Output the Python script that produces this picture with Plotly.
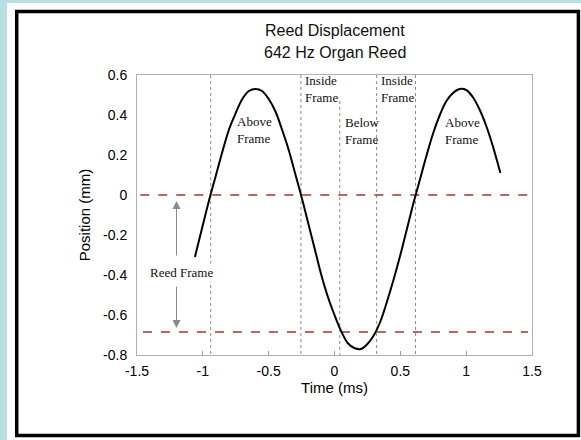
import plotly.graph_objects as go

# ---- data ----
time_ms = [-1.06, -1.00, -0.95, -0.90, -0.85, -0.80, -0.75, -0.70, -0.65, -0.60,
           -0.55, -0.50, -0.45, -0.40, -0.35, -0.30, -0.25, -0.20, -0.15, -0.10,
           -0.05, 0.00, 0.05, 0.10, 0.15, 0.20, 0.25, 0.30, 0.35, 0.40,
           0.45, 0.50, 0.55, 0.60, 0.65, 0.70, 0.75, 0.80, 0.85, 0.90,
           0.95, 1.00, 1.05, 1.10, 1.15, 1.20, 1.26]
position_mm = [-0.31, -0.15, -0.02, 0.10, 0.22, 0.33, 0.41, 0.48, 0.52, 0.53,
               0.52, 0.48, 0.42, 0.33, 0.23, 0.11, -0.01, -0.14, -0.27, -0.40,
               -0.51, -0.60, -0.68, -0.74, -0.765, -0.77, -0.745, -0.70, -0.63, -0.53,
               -0.42, -0.30, -0.17, -0.04, 0.08, 0.20, 0.31, 0.40, 0.47, 0.51,
               0.53, 0.525, 0.49, 0.43, 0.35, 0.25, 0.11]

frame_levels = [0.0, -0.685]              # reed frame edges (mm)
frame_x_start = [-1.475, -1.455]
frame_x_end = [1.49, 1.47]

boundary_t = [-0.94, -0.255, 0.04, 0.32, 0.615]   # region boundaries (ms)
boundary_top = [0.6, 0.6, 0.47, 0.6, 0.6]

region_labels = ["Above<br>Frame", "Inside<br>Frame", "Below<br>Frame", "Inside<br>Frame", "Above<br>Frame"]
region_x = [-0.756, -0.24, 0.064, 0.337, 0.823]
region_y = [0.325, 0.53, 0.32, 0.53, 0.32]

x_ticks = [-1.5, -1, -0.5, 0, 0.5, 1, 1.5]
x_ticktext = ["-1.5", "-1", "-0.5", "0", "0.5", "1", "1.5"]
y_ticks = [0.6, 0.4, 0.2, 0, -0.2, -0.4, -0.6, -0.8]
y_ticktext = ["0.6", "0.4", "0.2", "0", "-0.2", "-0.4", "-0.6", "-0.8"]

arrow_x = -1.2
arrow_up = [-0.31, -0.03]     # tail, head
arrow_down = [-0.45, -0.665]  # tail, head
reed_label_pos = [-1.42, -0.385]

# ---- figure ----
fig = go.Figure()

# vertical dotted boundary lines
vx, vy = [], []
for t, top in zip(boundary_t, boundary_top):
    vx += [t, t, None]
    vy += [top, -0.8, None]
fig.add_trace(go.Scatter(x=vx, y=vy, mode="lines",
                         line=dict(color="#8a8a8a", width=1, dash="dot"),
                         hoverinfo="skip", showlegend=False))

# dashed frame levels
hx, hy = [], []
for lvl, a, b in zip(frame_levels, frame_x_start, frame_x_end):
    hx += [a, b, None]
    hy += [lvl, lvl, None]
fig.add_trace(go.Scatter(x=hx, y=hy, mode="lines",
                         line=dict(color="#a83232", width=1.5, dash="dash"),
                         hoverinfo="skip", showlegend=False))

# reed displacement curve
fig.add_trace(go.Scatter(x=time_ms, y=position_mm, mode="lines",
                         line=dict(color="black", width=2, shape="spline"),
                         showlegend=False))

serif = "Liberation Serif, Times New Roman, serif"
sans = "Liberation Sans, Arial, sans-serif"

annotations = []
for txt, x, y in zip(region_labels, region_x, region_y):
    annotations.append(dict(x=x, y=y, xref="x", yref="y", text=txt, showarrow=False,
                            xanchor="left", yanchor="middle", align="left",
                            font=dict(family=serif, size=13, color="#111")))

# arrows for reed frame
annotations.append(dict(x=arrow_x, y=arrow_up[1], ax=arrow_x, ay=arrow_up[0],
                        xref="x", yref="y", axref="x", ayref="y", text="",
                        showarrow=True, arrowhead=2, arrowsize=1.6, arrowwidth=1,
                        arrowcolor="#8a8a8a"))
annotations.append(dict(x=arrow_x, y=arrow_down[1], ax=arrow_x, ay=arrow_down[0],
                        xref="x", yref="y", axref="x", ayref="y", text="",
                        showarrow=True, arrowhead=2, arrowsize=1.6, arrowwidth=1,
                        arrowcolor="#8a8a8a"))
annotations.append(dict(x=reed_label_pos[0], y=reed_label_pos[1], xref="x", yref="y",
                        text="Reed Frame", showarrow=False, xanchor="left", yanchor="middle",
                        bgcolor="white", font=dict(family=serif, size=13, color="#111")))

# title lines
annotations.append(dict(x=0.5, y=1.1607, xref="paper", yref="paper", text="Reed Displacement",
                        showarrow=False, xanchor="center", yanchor="middle",
                        font=dict(family=sans, size=16, color="#111")))
annotations.append(dict(x=0.5, y=1.08, xref="paper", yref="paper", text="642 Hz Organ Reed",
                        showarrow=False, xanchor="center", yanchor="middle",
                        font=dict(family=sans, size=16, color="#111")))

shapes = [
    # white page
    dict(type="rect", xref="paper", yref="paper", x0=-0.329, x1=1.3, y0=1.257, y1=-0.35,
         fillcolor="white", line=dict(width=0), layer="below"),
    # black frame
    dict(type="rect", xref="paper", yref="paper", x0=-0.3045, x1=1.1175, y0=1.2268, y1=-0.2875,
         fillcolor="rgba(0,0,0,0)", line=dict(color="black", width=3.5), layer="above"),
]

fig.update_layout(
    width=581, height=440,
    margin=dict(l=137, r=49, t=75, b=85),
    paper_bgcolor="#b8dfe3",
    plot_bgcolor="white",
    font=dict(family=sans, size=14, color="black"),
    annotations=annotations,
    shapes=shapes,
    showlegend=False,
)
fig.update_xaxes(range=[-1.5, 1.5], tickvals=x_ticks, ticktext=x_ticktext,
                 showgrid=False, zeroline=False, showline=True, mirror=True,
                 linecolor="#b0b0b0", linewidth=1, ticks="inside", ticklen=4,
                 tickcolor="#999", ticklabelstandoff=3,
                 title=dict(text="Time (ms)", standoff=2, font=dict(size=15)))
fig.update_yaxes(range=[-0.8, 0.6], tickvals=y_ticks, ticktext=y_ticktext,
                 showgrid=False, zeroline=False, showline=True, mirror=True,
                 linecolor="#b0b0b0", linewidth=1, ticks="", ticklabelstandoff=6,
                 title=dict(text="Position (mm)", standoff=8, font=dict(size=15)))

fig.write_html("out.html")
